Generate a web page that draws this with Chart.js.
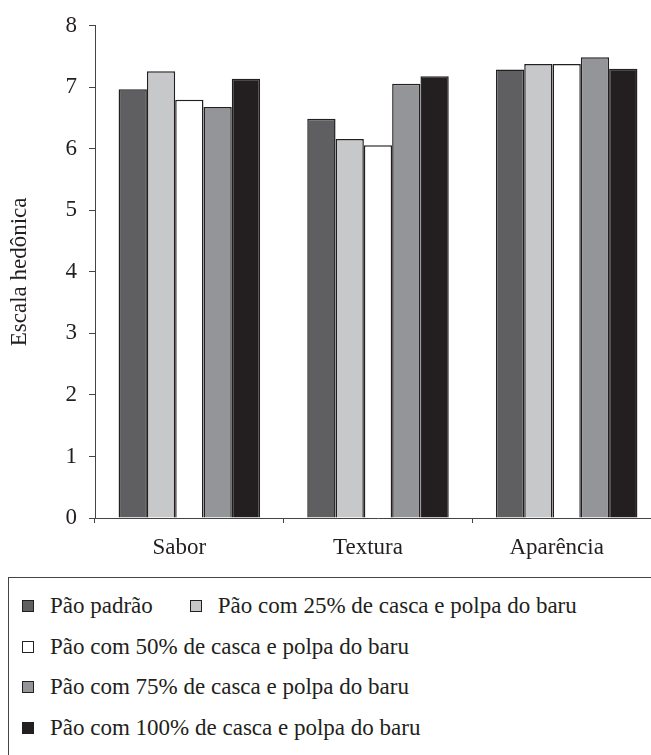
<!DOCTYPE html>
<html>
<head>
<meta charset="utf-8">
<script src="https://cdn.jsdelivr.net/npm/chart.js@4/dist/chart.umd.min.js"></script>
<style>
  html, body { margin: 0; padding: 0; background: #fff; overflow: hidden; width: 651px; height: 755px; }
  #wrap { position: absolute; left: 0; top: 0; width: 670px; height: 565px; }
  #legend { position: absolute; left: 8px; top: 577px; width: 700px; height: 250px;
            border: 1px solid #444; font-family: "Liberation Serif", serif; font-size: 23px; color: #231f20; }
  .row { position: absolute; left: 13px; white-space: nowrap; height: 24px; line-height: 24px; }
  .item { display: inline-block; margin-right: 37px; }
  .sw { display: inline-block; width: 10px; height: 10px; border: 1px solid #231f20; margin-right: 16px; vertical-align: 1px; }
</style>
</head>
<body>
<div id="wrap"><canvas id="c" width="670" height="565"></canvas></div>
<div id="legend"></div>
<script>
const categories = ["Sabor", "Textura", "Aparência"];
const seriesNames = [
  "Pão padrão",
  "Pão com 25% de casca e polpa do baru",
  "Pão com 50% de casca e polpa do baru",
  "Pão com 75% de casca e polpa do baru",
  "Pão com 100% de casca e polpa do baru"
];
const padrao = [6.97, 6.49, 7.29];
const baru25 = [7.26, 6.16, 7.38];
const baru50 = [6.80, 6.06, 7.38];
const baru75 = [6.68, 7.06, 7.49];
const baru100 = [7.14, 7.18, 7.30];
const yTicks = [0, 1, 2, 3, 4, 5, 6, 7, 8];
const yTitle = "Escala hedônica";

const fills = ["#5f5f61", "#c7c8ca", "#ffffff", "#939598", "#231f20"];
const seriesValues = [padrao, baru25, baru50, baru75, baru100];
const FONT = "'Liberation Serif', serif";

const chart = new Chart(document.getElementById("c"), {
  type: "bar",
  data: {
    labels: categories,
    datasets: seriesValues.map((v, i) => ({
      label: seriesNames[i],
      data: v,
      backgroundColor: fills[i],
      borderColor: "#231f20",
      borderWidth: 1.5,
      categoryPercentage: 0.75,
      barPercentage: 1.0
    }))
  },
  options: {
    responsive: false,
    devicePixelRatio: 1,
    animation: false,
    layout: { padding: { left: 0, top: 24, right: 9, bottom: 0 } },
    plugins: { legend: { display: false }, tooltip: { enabled: false } },
    scales: {
      x: {
        grid: { display: true, drawOnChartArea: false, drawTicks: true, tickLength: 5, color: "#444", offset: true },
        border: { display: true, color: "#444", width: 1 },
        ticks: { color: "#231f20", font: { family: FONT, size: 23 }, padding: 11, labelOffset: -10 },
        afterFit: (s) => { s.height = 47; }
      },
      y: {
        min: 0, max: 8,
        afterBuildTicks: (s) => { s.ticks = yTicks.map(v => ({ value: v })); },
        grid: { display: true, drawOnChartArea: false, drawTicks: true, tickLength: 6, color: "#444" },
        border: { display: true, color: "#444", width: 1 },
        ticks: { color: "#231f20", font: { family: FONT, size: 23 }, padding: 12 },
        title: { display: true, text: yTitle, color: "#231f20", font: { family: FONT, size: 23 }, padding: { top: 6, bottom: 8 } },
        afterFit: (s) => { s.width = 95; }
      }
    }
  }
});

// HTML legend built from the chart's datasets
const legend = document.getElementById("legend");
const rows = [[0, 1], [2], [3], [4]];
rows.forEach((idxs, r) => {
  const row = document.createElement("div");
  row.className = "row";
  row.style.top = (16 + r * 40.7) + "px";
  idxs.forEach(i => {
    const ds = chart.data.datasets[i];
    const it = document.createElement("span");
    it.className = "item";
    const sw = document.createElement("span");
    sw.className = "sw";
    sw.style.background = ds.backgroundColor;
    it.appendChild(sw);
    it.appendChild(document.createTextNode(ds.label));
    row.appendChild(it);
  });
  legend.appendChild(row);
});
</script>
</body>
</html>
